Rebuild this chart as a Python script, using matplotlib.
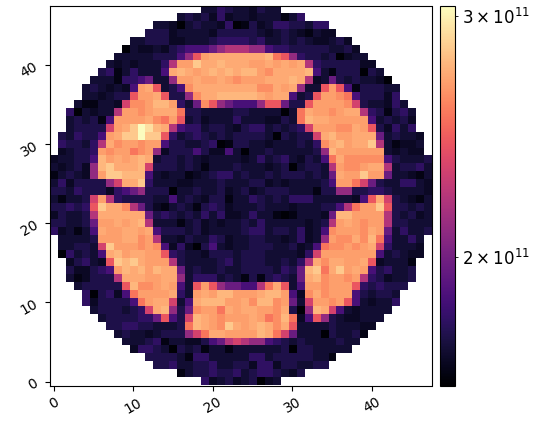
import numpy as np
import matplotlib
matplotlib.use('Agg')
import matplotlib.pyplot as plt
from matplotlib.colors import LogNorm

# pixel brightness, in units of 1e9
levels = {'a': 162, 'b': 165, 'c': 168, 'd': 171, 'e': 175, 'f': 180, 'g': 187,
          'h': 197, 'i': 210, 'j': 221, 'k': 232, 'l': 243, 'm': 254, 'n': 262,
          'o': 268, 'p': 272, 'q': 277, 'r': 284, 's': 293, 't': 305}

# one char per pixel, top row first, '.' is outside the mask
rows = [
    "........ ........ ...ddfed dcedd... ........ ........",
    "........ ........ dedecfcd dcdddbdf ........ ........",
    "........ .....ddc adeddcfa becdffee dff..... ........",
    "........ ....eeec ddddceee eedcdedc bdcc.... ........",
    "........ ..ddeeec cdddefff fefddede dccdec.. ........",
    "........ .adccdce fggghijj jiigffee eeeddec. ........",
    "........ dddddeee gilopppp pppqmlif eedeacdd ........",
    ".......d cdcdddfj oorppqpp poopopop jfeeeeec c.......",
    "......ef bdfdddgp qpopqpqp qqonpppp qgdbeeea ed......",
    ".....ddd bffghddi oopoopon ooopppqp jcdheded dca.....",
    "....dedc dcgoplde gnpppppp ppnnpopi ddlolgbe eedd....",
    "....ddcd eeloople einppqqq qqpoppgd eloonmge eecf....",
    "...dbbdd cknnoqqo fdhnlihg ggillhee loooonke ddcfd...",
    "..fadcdd joonoppp meedddde eddddadm poonoppj febefd..",
    "..dedebg oooopnmo ldecdddf dddccedm qppooooo gdedec..",
    "..deeeek oprtsqpj gffdeedc effdedef kooonnpo lecfdf..",
    ".edfeego prrtrrlf defedede eeedaede ekpqoopp phdeddc.",
    ".feedfjp noonooge eddefabe eddcddde dfnpqopp rjdbccd.",
    ".cdeefon oomnoice eegeccgd addedddd deiqoooo oodcdcc.",
    "cddeegqo popqpdee dedcdddd cdfdefdc edgmpnnn nngeddde",
    "dcdeciqr pppqkeee dedbddde dddcdead eedjonno ppjdeefd",
    "bdedcior rqqqgdcd dbcdeffd eddedeee dedhpoor oohddcbd",
    "dfceeeei kpprfddd ccdddedd deecdcdd ddegoomk heddffdc",
    "eedfeeec fghieeea ddeddecd ecdeeedd dbeeiiee ffeddddc",
    "dbddekoj feeeeddg dedceebd dfededff fdddddcg lpkedcbd",
    "eefeflrp pnjhecbd edbefecd ddedddcd ddeegjmo orleeded",
    "ceddejpp pppphefe dedfdfcc dfddbabd ddchqqoo oojedecd",
    "eeddehoo popqjddd bdecdcdd edfddddd cdejopon oojeeddd",
    "fcdbdgpo oppopgee edecdddd effdeedf cdgnooon pohdfdde",
    ".ddddeoo oppnojdd ceddfecd deeddcdf cdionnpn qmgddfd.",
    ".ddeedkr ooonongc fcaegdcd deeeddec dgmnnono pkfdddc.",
    ".afdedgp qoppoolf eddceeed eeeddddc fkoooooo ogdedcc.",
    "..cefdcl rqrpoooj eddddefd eeeddedf jpnppoop lcdddb..",
    "..eccefg oqpqoqpp hdeddedd eeeedfeh qrmpropo gefdde..",
    "..dbceee jpppoopp idfffded bebefedh pqnoonoj fecdde..",
    "...deeee elqnnopo gdlolihh ggjmpldg oonooolf efeee...",
    "....faef cgmoooop fdopoqqo oopqqogc npnoooge deed....",
    "....fcee eegmoppk dgpqqqoo pnqqnohd koonolgd cddf....",
    ".....dee edefkpqi ehnoompo ppoonpea iqpkgdcd ddd.....",
    "......de eeeffhlg ekqponoo opomnqmc gliedccd dd......",
    ".......e effeeddd emqponrp opqpnpld dddedddc c.......",
    "........ deddcdee eikmppoo ooqpmkhd ddaeddeb ........",
    "........ .dddefbd dcceghjk jiigfede ddddedd. ........",
    "........ ..cffeda edebddbd dddddeae eddddd.. ........",
    "........ ....eeee dbffdddd dffdeeee eddb.... ........",
    "........ .....eef ddeefdde ecffceed dee..... ........",
    "........ ........ bdeefeef deffedce ........ ........",
    "........ ........ ...fcdec deacd... ........ ........",
]

grid = []
for row in rows:
    grid.append([levels.get(ch, np.nan) for ch in row.replace(" ", "")])
image = np.array(grid[::-1]) * 1e9

fig = plt.figure(figsize=(5.37, 4.25), dpi=100)
ax = fig.add_axes([50 / 537, 39.5 / 425, 381.5 / 537, 379.5 / 425])
cax = fig.add_axes([440 / 537, 39 / 425, 15 / 537, 380 / 425])

im = ax.imshow(image, cmap='magma', origin='lower', aspect='auto',
               norm=LogNorm(vmin=161e9, vmax=305e9), interpolation='nearest')
ax.set_xticks([0, 10, 20, 30, 40])
ax.set_yticks([0, 10, 20, 30, 40])
ax.tick_params(axis='x', labelrotation=30)
ax.tick_params(axis='y', labelrotation=30)
fig.colorbar(im, cax=cax)
cax.tick_params(which='both', labelsize=12)

fig.savefig('out.png', dpi=100)
